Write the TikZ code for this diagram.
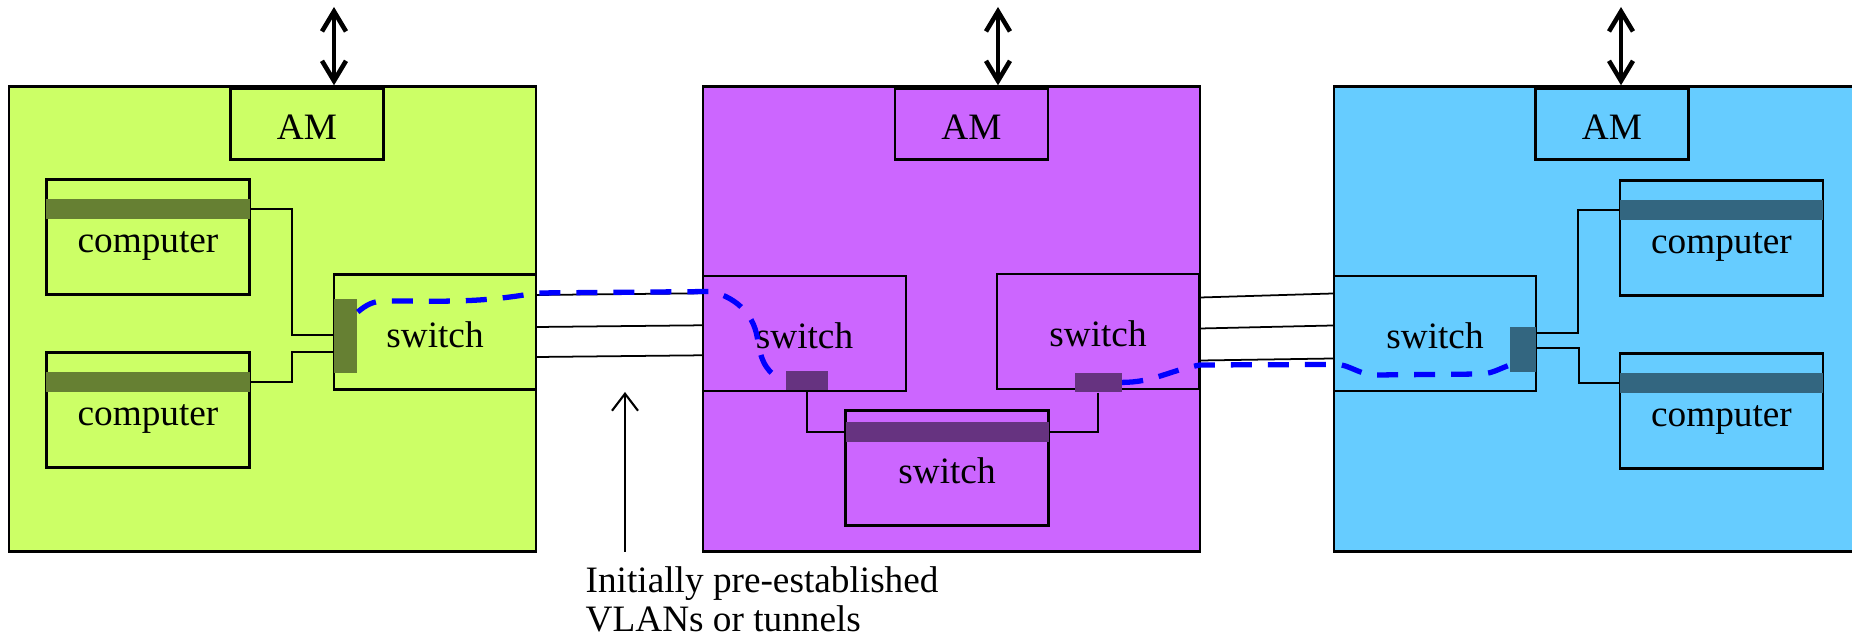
\documentclass[tikz,border=0pt]{standalone}
\usepackage{fontspec}
\setmainfont{Liberation Serif}
\usepackage{tikz}
\usetikzlibrary{arrows.meta, positioning, calc}
\definecolor{siteA}{HTML}{CCFF66}
\definecolor{siteAdark}{HTML}{668033}
\definecolor{siteB}{HTML}{CC66FF}
\definecolor{siteBdark}{HTML}{663380}
\definecolor{siteC}{HTML}{66CCFF}
\definecolor{siteCdark}{HTML}{336680}
\definecolor{vlanblue}{HTML}{0000FF}

\begin{document}
\begin{tikzpicture}[
    font=\fontsize{10.6}{11}\selectfont,
    site/.style={draw, line width=0.7pt, minimum width=#1, minimum height=4.65cm, inner sep=0pt},
    box/.style={draw, line width=0.7pt, minimum width=2.03cm, minimum height=1.15cm, inner sep=0pt,
                text height=8.6pt, text depth=0pt},
    am/.style={draw, line width=0.7pt, minimum width=1.53cm, minimum height=0.71cm, inner sep=0pt,
               text height=8.6pt, text depth=0pt},
    bar/.style={fill=#1, minimum width=2.03cm, minimum height=0.2cm, inner sep=0pt, anchor=north},
    port/.style={fill=#1, inner sep=0pt},
    wire/.style={line width=0.6pt},
    link/.style={line width=0.5pt},
    vlan/.style={vlanblue, line width=1.5pt, dash pattern=on 2.1mm off 1.6mm},
    ctrl/.style={line width=1.3pt, line cap=round,
                 {Straight Barb[length=2mm,width=2.4mm]}-{Straight Barb[length=2mm,width=2.4mm]}},
]
    \useasboundingbox (0,0) rectangle (18.52,6.38);
    \clip (0,0) rectangle (18.52,6.38);

    \node[site=5.27cm, fill=siteA] (gsite) at (2.725, 3.19) {};
    \node[site=4.97cm, fill=siteB] (psite) at (9.515, 3.19) {};
    \node[site=5.28cm, fill=siteC] (bsite) at (15.98, 3.19) {};

    \node[am] (gam) at (3.07, 5.14) {AM};
    \node[am] (pam) at (9.715, 5.14) {AM};
    \node[am] (bam) at (16.12, 5.14) {AM};

    \coordinate (gup) at (3.34, 6.31);
    \coordinate (pup) at (9.98, 6.31);
    \coordinate (bup) at (16.21, 6.31);
    \draw[ctrl] (gup) -- (gup |- gsite.north);
    \draw[ctrl] (pup) -- (pup |- psite.north);
    \draw[ctrl] (bup) -- (bup |- bsite.north);

    % green site
    \node[box] (gc1) at (1.48, 4.01) {computer};
    \node[bar=siteAdark] (gc1bar) at ([yshift=-2mm]gc1.north) {};
    \node[box] (gc2) at (1.48, 2.28) {computer};
    \node[bar=siteAdark] (gc2bar) at ([yshift=-2mm]gc2.north) {};
    \node[box, minimum width=2.02cm] (gsw) at (4.35, 3.06) {switch};
    \node[port=siteAdark, minimum width=0.23cm, minimum height=0.74cm] (gport) at (3.455, 3.02) {};
    \draw[wire] (gc1bar.east) -- ++(0.42,0) |- ([yshift=0.1mm]gport.west);
    \draw[wire] (gc2bar.east) -- ++(0.42,0) |- ([yshift=-1.6mm]gport.west);

    % purple site
    \node[box] (psl) at (8.045, 3.047) {switch};
    \node[port=siteBdark, minimum width=0.42cm, minimum height=0.19cm] (lport) at (8.07, 2.575) {};
    \node[box, minimum width=2.02cm] (psr) at (10.98, 3.065) {switch};
    \node[port=siteBdark, minimum width=0.47cm, minimum height=0.19cm] (rport) at (10.98, 2.556) {};
    \node[box] (psb) at (9.47, 1.70) {switch};
    \node[bar=siteBdark] (psbbar) at ([yshift=-1.2mm]psb.north) {};
    \draw[wire] (lport.south) |- (psbbar.west);
    \draw[wire] (rport.south) |- (psbbar.east);

    % blue site
    \node[box, minimum width=2.02cm] (bsw) at (14.35, 3.045) {switch};
    \node[port=siteCdark, minimum width=0.26cm, minimum height=0.45cm] (bport) at (15.226, 2.886) {};
    \node[box] (bc1) at (17.215, 3.998) {computer};
    \node[bar=siteCdark] (bc1bar) at ([yshift=-2mm]bc1.north) {};
    \node[box] (bc2) at (17.215, 2.27) {computer};
    \node[bar=siteCdark] (bc2bar) at ([yshift=-2mm]bc2.north) {};
    \draw[wire] ([yshift=1.6mm]bport.east) -- ++(0.42,0) |- (bc1bar.west);
    \draw[wire] ([yshift=0.1mm]bport.east) -- ++(0.43,0) |- (bc2bar.west);

    \draw[link] ([yshift=3.7mm]gsw.east) -- ([yshift=4.0mm]psl.west);
    \draw[link] ([yshift=0.5mm]gsw.east) -- ([yshift=0.8mm]psl.west);
    \draw[link] ([yshift=-2.5mm]gsw.east) -- ([yshift=-2.2mm]psl.west);
    \draw[link] ([yshift=3.4mm]psr.east) -- ([yshift=4.0mm]bsw.west);
    \draw[link] ([yshift=0.3mm]psr.east) -- ([yshift=0.8mm]bsw.west);
    \draw[link] ([yshift=-2.9mm]psr.east) -- ([yshift=-2.5mm]bsw.west);

    \draw[vlan] ([yshift=2.4mm]gport.east) to[out=40,in=180] (3.85,3.37)
        to[out=0,in=190] (5.36,3.45) -- (7.12,3.465)
        to[out=-15,in=95] (7.58,2.95) to[out=-80,in=165] (lport.west);
    \draw[vlan] (rport.east) to[out=0,in=190] (12.0,2.73) -- (13.28,2.735)
        to[out=10,in=178] (13.75,2.63) -- (14.82,2.64)
        to[out=5,in=200] ([yshift=-1.6mm]bport.west);

    \node[align=left, anchor=north west, inner sep=0pt] (note) at (5.85, 0.72)
        {Initially pre-established\\VLANs or tunnels};
    \coordinate (ntip) at (6.25, 2.46);
    \coordinate (nfoot) at (6.25, 0.86);
    \draw[line width=0.6pt, -{Straight Barb[length=1.7mm,width=2.6mm]}] (nfoot) -- (ntip);
\end{tikzpicture}
\end{document}
